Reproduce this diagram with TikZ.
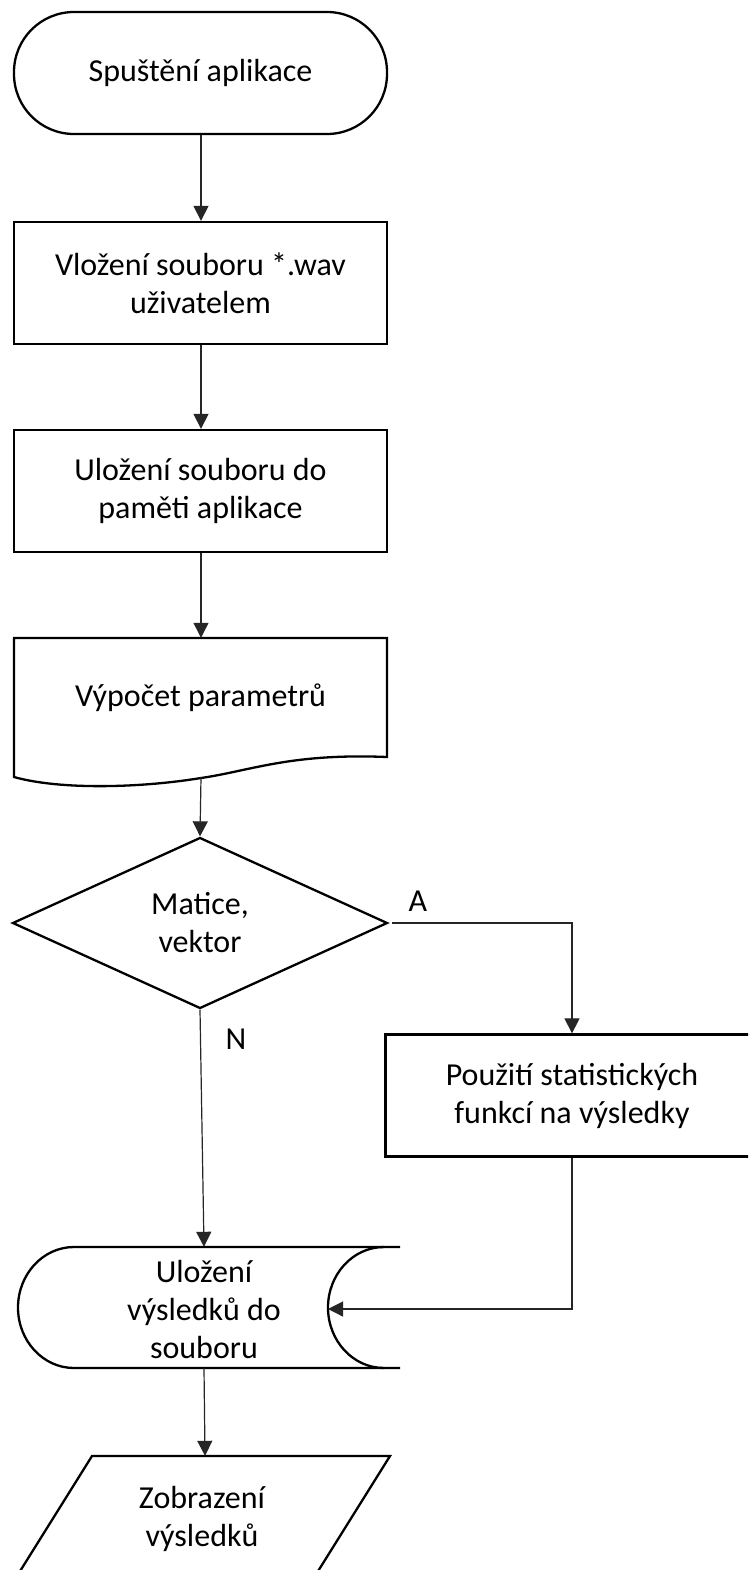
\documentclass[tikz,border=0pt]{standalone}
\usepackage{fontspec}
\setmainfont{Carlito}
\usetikzlibrary{arrows.meta,shapes.geometric}
\begin{document}
\begin{tikzpicture}[x=1pt,y=-1pt,
  font=\fontsize{32}{38}\selectfont,
  shp/.style={draw=black,line width=2.3pt},
  box/.style={shp,rectangle,minimum width=373pt,minimum height=122pt,inner sep=0pt,align=center},
  ghost/.style={rectangle,inner sep=0pt,minimum width=#1},
  conn/.style={draw=black!85,line width=1.2pt,-{Triangle[length=15pt,width=15pt]}},
  lbl/.style={inner sep=0pt,align=center}]
\useasboundingbox (0,0) rectangle (748,1570);
\clip (0,0) rectangle (748,1570);
% terminal
\node[box,rounded corners=60pt] (term) at (200.5,73) {Spuštění aplikace};
% process boxes
\node[box] (ins) at (200.5,283) {Vložení souboru *.wav\\uživatelem};
\node[box] (mem) at (200.5,491) {Uložení souboru do\\paměti aplikace};
% document
\node[ghost=373pt,minimum height=139pt] (doc) at (200.5,707.5) {};
\draw[shp,line join=miter] (387,757) -- (387,638) -- (14,638) -- (14,777)
  .. controls (60,790) and (140,788) .. (201,778)
  .. controls (250,771) and (290,753) .. (387,757) -- cycle;
\node[lbl] (doct) at (200.5,698) {Výpočet parametrů};
% decision
\node[shp,diamond,shape aspect=2.19,minimum width=375pt,minimum height=171pt,inner sep=0pt,align=center] (dec) at (200,923) {Matice,\\vektor};
% statistics box
\node[box] (stat) at (572,1095.5) {Použití statistických\\funkcí na výsledky};
% stored data
\node[ghost=382pt,minimum height=121pt] (sto) at (209,1307.5) {};
\draw[shp] (400,1247) -- (74,1247)
  .. controls (43.1,1247) and (18,1274.1) .. (18,1307.5)
  .. controls (18,1340.9) and (43.1,1368) .. (74,1368) -- (400,1368);
\draw[shp] (384,1247) .. controls (353.1,1247) and (328,1274.1) .. (328,1307.5)
  .. controls (328,1340.9) and (353.1,1368) .. (384,1368);
\node[lbl] (stot) at (204,1309) {Uložení\\výsledků do\\souboru};
\coordinate (stoR) at (328,1309);
% display (parallelogram)
\node[ghost=10pt,minimum height=126pt] (par) at (205,1519) {};
\draw[shp,line join=miter] (92,1456) -- (390,1456) -- (311.25,1582) -- (13.25,1582) -- cycle;
\node[lbl] at (202,1519) {Zobrazení\\výsledků};
% connectors
\draw[conn] (term.south -| 201,0) -- (ins.north -| 201,0);
\draw[conn] (ins.south -| 201,0) -- (mem.north -| 201,0);
\draw[conn] (mem.south -| 201,0) -- (doc.north -| 201,0);
\draw[conn] (doc.south -| 201,0) -- (dec.north);
\draw[conn] ([xshift=3pt]dec.east) -| (stat.north);
\draw[conn] (dec.south) -- (stot |- sto.north);
\draw[conn] (stat.south) |- (stoR);
\draw[conn] (stot |- sto.south) -- (par.north);
% labels
\node[lbl] (la) at (418,901) {A};
\node[lbl] (ln) at (236,1039) {N};
\end{tikzpicture}
\end{document}
